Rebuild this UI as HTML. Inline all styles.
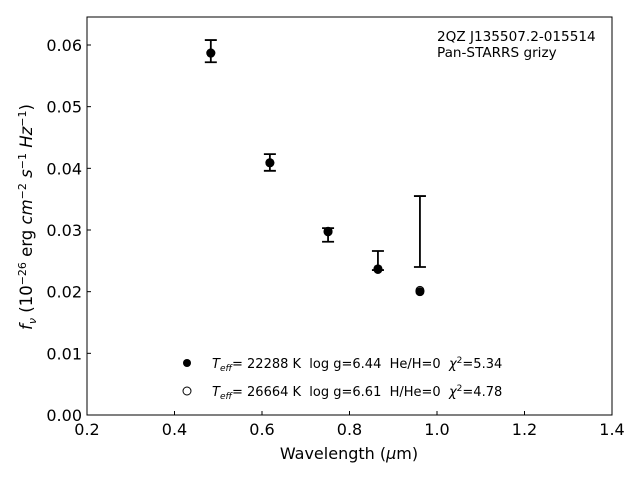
<!DOCTYPE html>
<html><head><meta charset="utf-8"><style>
body{margin:0;background:#fff;font-family:"DejaVu Sans","Liberation Sans",sans-serif;}
svg text{font-family:"DejaVu Sans","Liberation Sans",sans-serif;white-space:pre;}
</style></head><body>
<svg id="chart" width="640" height="480" xmlns="http://www.w3.org/2000/svg" xml:space="preserve">
<rect width="640" height="480" fill="#fff"/>
<g id="plot"></g>
<rect x="87" y="17" width="525" height="398" fill="none" stroke="#000" stroke-width="1"/>
<text x="437" y="41" font-size="13.6">2QZ J135507.2-015514</text>
<text x="437" y="57" font-size="13.6">Pan-STARRS grizy</text>
<text x="349" y="459" font-size="16" text-anchor="middle">Wavelength (<tspan font-style="italic">μ</tspan>m)</text>
<text transform="translate(32,217) rotate(-90)" font-size="16.5" text-anchor="middle"><tspan font-style="italic">f</tspan><tspan font-style="italic" font-size="11" dy="4">ν</tspan><tspan dy="-4"> (10</tspan><tspan font-size="11" dy="-6">−26</tspan><tspan dy="6"> erg </tspan><tspan font-style="italic">cm</tspan><tspan font-size="11" dy="-6">−2</tspan><tspan dy="6"> </tspan><tspan font-style="italic">s</tspan><tspan font-size="11" dy="-6">−1</tspan><tspan dy="6"> </tspan><tspan font-style="italic">Hz</tspan><tspan font-size="11" dy="-6">−1</tspan><tspan dy="6">)</tspan></text>
<g>
<circle cx="187" cy="363" r="4" fill="#000"/>
<text x="212" y="368" font-size="13"><tspan font-style="italic">T</tspan><tspan font-style="italic" font-size="9" dy="3">eff</tspan><tspan dy="-3">= 22288 K  log g=6.44  He/H=0  </tspan><tspan font-style="italic">χ</tspan><tspan font-size="9" dy="-5">2</tspan><tspan dy="5">=5.34</tspan></text>
<circle cx="187" cy="391" r="4" fill="#fff" stroke="#000"/>
<text x="212" y="396" font-size="13"><tspan font-style="italic">T</tspan><tspan font-style="italic" font-size="9" dy="3">eff</tspan><tspan dy="-3">= 26664 K  log g=6.61  H/He=0  </tspan><tspan font-style="italic">χ</tspan><tspan font-size="9" dy="-5">2</tspan><tspan dy="5">=4.78</tspan></text>
</g>
</svg>
<script>
const wavelengths=[0.483,0.618,0.751,0.865,0.961];
const obsLow=[0.0572,0.0396,0.0281,0.0235,0.0240];
const obsHigh=[0.0608,0.0423,0.0303,0.0266,0.0355];
const modelHeH=[0.0587,0.0409,0.0297,0.0237,0.0200];
const modelHHe=[0.0587,0.0409,0.0298,0.0236,0.0202];
const xTicks=[0.2,0.4,0.6,0.8,1.0,1.2,1.4];
const xTickLabels=["0.2","0.4","0.6","0.8","1.0","1.2","1.4"];
const yTicks=[0,0.01,0.02,0.03,0.04,0.05,0.06];
const yTickLabels=["0.00","0.01","0.02","0.03","0.04","0.05","0.06"];
const X0=87,X1=612,Y0=415,Y1=17,xMin=0.2,xMax=1.4,yMin=0,yMax=0.06454;
function xs(v){return X0+(v-xMin)/(xMax-xMin)*(X1-X0);}
function ys(v){return Y0-(v-yMin)/(yMax-yMin)*(Y0-Y1);}
const NS="http://www.w3.org/2000/svg";
const g=document.getElementById('plot');
function mk(t,a){const e=document.createElementNS(NS,t);for(const k in a)e.setAttribute(k,a[k]);g.appendChild(e);return e;}
xTicks.forEach((v,i)=>{
  const l=mk('line',{x1:xs(v),x2:xs(v),y1:Y0,y2:Y0-4,stroke:'#000'});
  
  
  const t=mk('text',{x:xs(v),y:Y0+20,'font-size':16,'text-anchor':'middle'});
  t.textContent=xTickLabels[i];
  
  
});
yTicks.forEach((v,i)=>{
  const l=mk('line',{x1:X0,x2:X0+4,y1:ys(v),y2:ys(v),stroke:'#000'});
  
  
  const t=mk('text',{x:X0-5,y:ys(v)+6,'font-size':16,'text-anchor':'end'});
  t.textContent=yTickLabels[i];
  
  
});
wavelengths.forEach((w,i)=>{
  const x=xs(w),a=ys(obsHigh[i]),b=ys(obsLow[i]);
  const e=mk('path',{d:`M${x},${a}V${b}M${x-6},${a}H${x+6}M${x-6},${b}H${x+6}`,stroke:'#000','stroke-width':1.8,fill:'none'});
  
  
  const o=mk('circle',{cx:x,cy:ys(modelHHe[i]),r:4,fill:'#fff',stroke:'#000'});
  
  
  const f=mk('circle',{cx:x,cy:ys(modelHeH[i]),r:4.5,fill:'#000'});
  
  
});
</script>
</body></html>
